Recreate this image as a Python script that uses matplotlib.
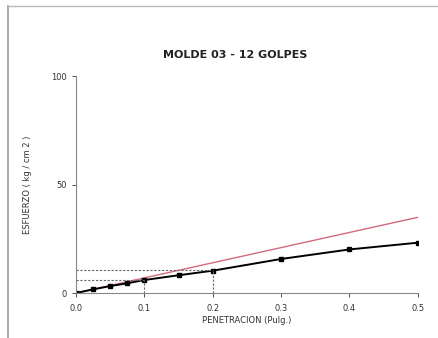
import matplotlib
matplotlib.use("Agg")
import matplotlib.pyplot as plt
from matplotlib.lines import Line2D

# datos
penetracion = [0.0, 0.025, 0.05, 0.075, 0.1, 0.15, 0.2, 0.3, 0.4, 0.5]
esfuerzo = [0.0, 1.7, 3.2, 4.5, 6.0, 8.2, 10.3, 15.7, 20.1, 23.2]
recta_x = [0.0, 0.5]
recta_y = [0.0, 34.9]
# lecturas a 0.1 y 0.2 pulg.
lect_x = [0.1, 0.2]
lect_y = [6.0, 10.6]

fig = plt.figure(figsize=(4.38, 3.38), dpi=100)
ax = fig.add_axes([0.1735, 0.133, 0.7805, 0.642])

# borde gris del marco
fig.add_artist(Line2D([8/438, 8/438], [0, 1 - 6/338], color="#999999", lw=1.2))
fig.add_artist(Line2D([8/438, 1], [1 - 6/338, 1 - 6/338], color="#bbbbbb", lw=1.0))

ax.plot(recta_x, recta_y, color="#d46a7e", lw=1.0)
ax.plot(penetracion, esfuerzo, color="black", lw=1.4, marker="s", ms=2.6)

# lineas punteadas de lectura
for xv, yv in zip(lect_x, lect_y):
    ax.plot([0, xv], [yv, yv], color="#666666", lw=0.8, ls=(0, (2, 1.5)))
    ax.plot([xv, xv], [0, yv], color="#666666", lw=0.8, ls=(0, (2, 1.5)))

ax.set_xlim(0, 0.5)
ax.set_ylim(0, 100)
ax.set_xticks([0.0, 0.1, 0.2, 0.3, 0.4, 0.5])
ax.set_xticklabels(["0.0", "0.1", "0.2", "0.3", "0.4", "0.5"])
ax.set_yticks([0, 50, 100])
for s in ["top", "right"]:
    ax.spines[s].set_visible(False)
for s in ["left", "bottom"]:
    ax.spines[s].set_color("#888888")
ax.tick_params(labelsize=6, colors="#333333", length=3, width=0.6)
ax.tick_params(axis="x", pad=5)

ax.set_xlabel("PENETRACION (Pulg.)", fontsize=6, color="#333333", labelpad=2)
ax.set_ylabel("ESFUERZO ( kg / cm 2 )", fontsize=6, color="#333333", labelpad=14)
fig.text(0.537, 1 - 55/338, "MOLDE 03 - 12 GOLPES", fontsize=8, fontweight="bold",
         ha="center", va="center", color="#222222")

fig.savefig("out.png", dpi=100)
